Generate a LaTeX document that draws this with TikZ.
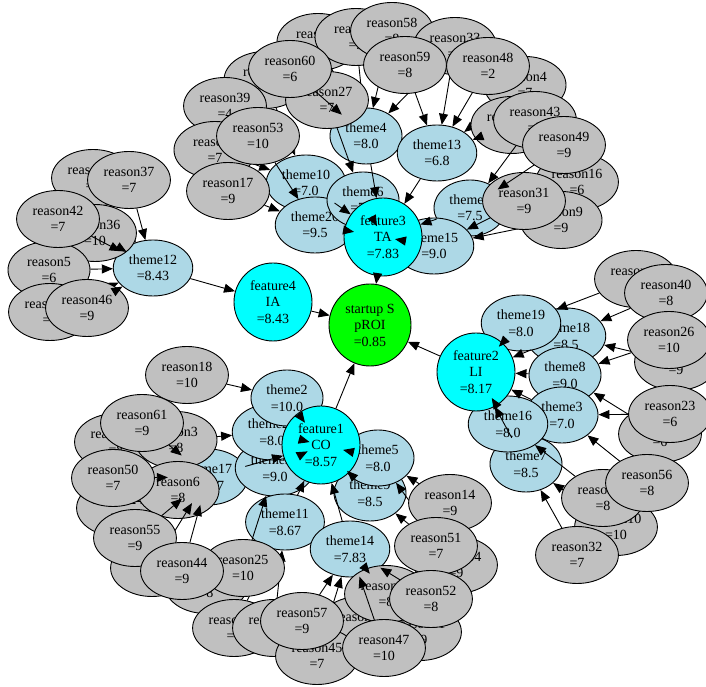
\documentclass[tikz,border=0pt]{standalone}
\usepackage{fontspec}
\setmainfont{Liberation Serif}
\usetikzlibrary{shapes.geometric,arrows.meta}
\definecolor{rgray}{HTML}{C0C0C0}
\definecolor{lblue}{HTML}{ADD8E6}
\definecolor{fcyan}{HTML}{00FFFF}
\definecolor{ggreen}{HTML}{00FF00}
\newcommand{\gvf}{\fontsize{14}{16.5}\selectfont}
\begin{document}
\begin{tikzpicture}[x=1pt,y=1pt,
  base/.style={ellipse, draw=black, line width=0.9pt, inner xsep=4pt, inner ysep=0pt, align=center, font=\gvf},
  rsn/.style={base, fill=rgray, minimum width=82pt, minimum height=57pt},
  thm/.style={base, fill=lblue, minimum width=72pt, minimum height=56pt},
  feat/.style={circle, draw=black, line width=0.9pt, fill=fcyan, minimum size=78pt, inner sep=0pt, align=center, font=\gvf},
  root/.style={feat, fill=ggreen, minimum size=82pt},
  arr/.style={-{Triangle[length=11pt,width=9pt]}, line width=0.9pt}]
\useasboundingbox (0,0) rectangle (706,687);
% ---------- themes ----------
\node[thm] (t18) at (566,351) {theme18\\=8.5};
\node[thm] (t19) at (521,364) {theme19\\=8.0};
\node[thm] (t8) at (565,312) {theme8\\=9.0};
\node[thm] (t3) at (562,272) {theme3\\=7.0};
\node[thm] (t7) at (526,223) {theme7\\=8.5};
\node[thm] (t16) at (508,263) {theme16\\=8.0};
\node[thm] (t4) at (366,551) {theme4\\=8.0};
\node[thm] (t13) at (437,534) {theme13\\=6.8};
\node[thm] (t10) at (306,504) {theme10\\=7.0};
\node[thm] (t20) at (315,462) {theme20\\=9.5};
\node[thm] (t6) at (363,487) {theme6\\=7.0};
\node[thm] (t1) at (470,479) {theme1\\=7.5};
\node[thm] (t15) at (434,441) {theme15\\=9.0};
\node[thm] (t12) at (153,419) {theme12\\=8.43};
\node[thm] (t17) at (208,210) {theme17\\=8.57};
\node[thm] (t22) at (275,219) {theme22\\=9.0};
\node[thm] (t21) at (272,255) {theme21\\=8.0};
\node[thm] (t2) at (287,289) {theme2\\=10.0};
\node[thm] (t11) at (285,165) {theme11\\=8.67};
\node[thm] (t9) at (370,194) {theme9\\=8.5};
\node[thm] (t5) at (378,229) {theme5\\=8.0};
\node[thm] (t14) at (350,138) {theme14\\=7.83};
% ---------- features ----------
\node[feat] (f3) at (383,450) {feature3\\TA\\=7.83};
\node[feat] (f4) at (273,385) {feature4\\IA\\=8.43};
\node[feat] (f2) at (476,315) {feature2\\LI\\=8.17};
\node[feat] (f1) at (321,242) {feature1\\CO\\=8.57};
\node[root] (s) at (370,362) {startup S\\pROI\\=0.85};
% ---------- theme -> feature ----------
\draw[arr] (t4) -- (f3);
\draw[arr] (t13) -- (f3);
\draw[arr] (t10) -- (f3);
\draw[arr] (t1) -- (f3);
\draw[arr] (t20.350) ++(170:11) -- (t20.350);
\draw[arr] (t6.298) ++(118:11) -- (t6.298);
\draw[arr] (t15.170) ++(350:11) -- (t15.170);
\draw[arr] (t12) -- (f4);
\draw[arr] (t19.227) ++(47:11) -- (t19.227);
\draw[arr] (t18) -- (f2);
\draw[arr] (t8) -- (f2);
\draw[arr] (t3) -- (f2);
\draw[arr] (t7) -- (f2);
\draw[arr] (t16.122) ++(302:11) -- (t16.122);
\draw[arr] (t2.306) ++(126:11) -- (t2.306);
\draw[arr] (t21.345) ++(165:11) -- (t21.345);
\draw[arr] (t22.27) ++(207:11) -- (t22.27);
\draw[arr] (t5.167) ++(347:11) -- (t5.167);
\draw[arr] (t9.136) ++(316:11) -- (t9.136);
\draw[arr] (t17) -- (f1);
\draw[arr] (t11) -- (f1);
\draw[arr] (t14) -- (f1);
\draw[arr] (f3) -- (s);
\draw[arr] (f4) -- (s);
\draw[arr] (f2) -- (s);
\draw[arr] (f1) -- (s);
% ---------- reasons: top ----------
\node[rsn] (ra) at (318,645) {reason1\\=7}; \draw[arr] (ra) -- (t4);
\node[rsn] (rb) at (356,650) {reason2\\=9}; \draw[arr] (rb) -- (t4);
\node[rsn] (rc) at (265,607) {reason7\\=5}; \draw[arr] (rc) -- (t10);
\node[rsn] (r27) at (327,587) {reason27\\=7}; \draw[arr] (r27) -- (t6);
\node[rsn] (r60) at (290,618) {reason60\\=6}; \draw[arr] (r60) -- (t4);
\node[rsn] (r39) at (225,581) {reason39\\=4}; \draw[arr] (r39) -- (t10);
\node[rsn] (rd) at (215,537) {reason8\\=7}; \draw[arr] (rd) -- (t10);
\node[rsn] (r53) at (258,551) {reason53\\=10}; \draw[arr] (r53) -- (t20);
\node[rsn] (r17) at (228,496) {reason17\\=9}; \draw[arr] (r17) -- (t20);
\node[rsn] (r58) at (392,656) {reason58\\=8}; \draw[arr] (r58) -- (t4);
\node[rsn] (r33) at (455,641) {reason33\\=5}; \draw[arr] (r33) -- (t4); \draw[arr] (r33) -- (t13);
\node[rsn] (r59) at (405,622) {reason59\\=8}; \draw[arr] (r59) -- (t13);
\node[rsn] (r4) at (525,602) {reason4\\=7}; \draw[arr] (r4) -- (t13);
\node[rsn] (r48) at (488,621) {reason48\\=2}; \draw[arr] (r48) -- (t13);
\node[rsn] (re) at (512,562) {reason11\\=8}; \draw[arr] (re) -- (t13);
\node[rsn] (r43) at (535,567) {reason43\\=7}; \draw[arr] (r43) -- (t1);
\node[rsn] (r16) at (577,505) {reason16\\=6}; \draw[arr] (r16) -- (t1);
\node[rsn] (r9) at (561,467) {reason9\\=9}; \draw[arr] (r9) -- (t15);
\node[rsn] (r31) at (524,486) {reason31\\=9}; \draw[arr] (r31) -- (t15);
\node[rsn] (r49) at (564,542) {reason49\\=9}; \draw[arr] (r49) -- (t1);
% ---------- reasons: left ----------
\node[rsn] (rf) at (93,509) {reason12\\=9}; \draw[arr] (rf) -- (t12);
\node[rsn] (r36) at (95,454) {reason36\\=10}; \draw[arr] (r36.329) ++(149:11) -- (r36.329);
\node[rsn] (r5) at (49,417) {reason5\\=6}; \draw[arr] (r5) -- (t12);
\node[rsn] (r37) at (129,507) {reason37\\=7}; \draw[arr] (r37) -- (t12);
\node[rsn] (r42) at (58,468) {reason42\\=7}; \draw[arr] (r42) -- (t12);
\node[rsn] (rg) at (50,375) {reason13\\=7}; \draw[arr] (rg) -- (t12);
\node[rsn] (r46) at (87,379) {reason46\\=9}; \draw[arr] (r46) -- (t12);
% ---------- reasons: right ----------
\node[rsn] (rh) at (636,408) {reason15\\=7}; \draw[arr] (rh) -- (t19);
\node[rsn] (r40) at (666,394) {reason40\\=8}; \draw[arr] (r40) -- (t18);
\node[rsn] (ri) at (676,325) {reason19\\=9}; \draw[arr] (ri) -- (t18);
\node[rsn] (r26) at (669,347) {reason26\\=10}; \draw[arr] (r26) -- (t8);
\node[rsn] (rj) at (660,253) {reason20\\=6}; \draw[arr] (rj) -- (t8);
\node[rsn] (r23) at (670,273) {reason23\\=6}; \draw[arr] (r23) -- (t3);
\node[rsn] (rl) at (616,160) {reason10\\=10}; \draw[arr] (rl) -- (t7);
\node[rsn] (rk) at (603,189) {reason21\\=8}; \draw[arr] (rk) -- (t16);
\node[rsn] (r56) at (647,204) {reason56\\=8}; \draw[arr] (r56) -- (t3);
\node[rsn] (r32) at (577,132) {reason32\\=7}; \draw[arr] (r32) -- (t7);
% ---------- reasons: bottom ----------
\node[rsn] (r18) at (187,312) {reason18\\=10}; \draw[arr] (r18) -- (t2);
\node[rsn] (rm) at (116,245) {reason22\\=8}; \draw[arr] (rm) -- (t17);
\node[rsn] (r3) at (176,247) {reason3\\=8}; \draw[arr] (r3) -- (t21);
\node[rsn] (r61) at (142,264) {reason61\\=9}; \draw[arr] (r61) -- (t17);
\node[rsn] (rn) at (118,179) {reason24\\=8}; \draw[arr] (rn) -- (t17);
\node[rsn] (r6) at (178,197) {reason6\\=8};
\node[rsn] (r50) at (113,209) {reason50\\=7}; \draw[arr] (r50) -- (t17);
\node[rsn] (ro) at (152,119) {reason28\\=6}; \draw[arr] (ro) -- (t17);
\node[rsn] (r55) at (135,149) {reason55\\=9}; \draw[arr] (r55) -- (t17);
\node[rsn] (rp) at (206,102) {reason29\\=8}; \draw[arr] (rp) -- (t11);
\node[rsn] (rq) at (234,59) {reason30\\=7}; \draw[arr] (rq) -- (t11);
\node[rsn] (rr) at (274,59) {reason34\\=9}; \draw[arr] (rr) -- (t11);
\node[rsn] (r25) at (243,119) {reason25\\=10}; \draw[arr] (r25) -- (t22);
\node[rsn] (r44) at (182,116) {reason44\\=9}; \draw[arr] (r44) -- (t17);
\node[rsn] (rs) at (360,62) {reason35\\=8}; \draw[arr] (rs) -- (t14);
\node[rsn] (r45) at (317,31) {reason45\\=7}; \draw[arr] (r45) -- (t14);
\node[rsn] (r57) at (302,66) {reason57\\=9}; \draw[arr] (r57) -- (t14);
\node[rsn] (ru) at (420,55) {reason41\\=9}; \draw[arr] (ru) -- (t14);
\node[rsn] (rt) at (386,93) {reason38\\=8}; \draw[arr] (rt) -- (t14);
\node[rsn] (r47) at (384,39) {reason47\\=10}; \draw[arr] (r47) -- (t14);
\node[rsn] (rv) at (456,122) {reason54\\=9}; \draw[arr] (rv) -- (t5);
\node[rsn] (r14) at (450,184) {reason14\\=9}; \draw[arr] (r14) -- (t5);
\node[rsn] (r51) at (436,141) {reason51\\=7}; \draw[arr] (r51) -- (t9);
\node[rsn] (r52) at (431,88) {reason52\\=8}; \draw[arr] (r52) -- (t14);
\end{tikzpicture}
\end{document}
